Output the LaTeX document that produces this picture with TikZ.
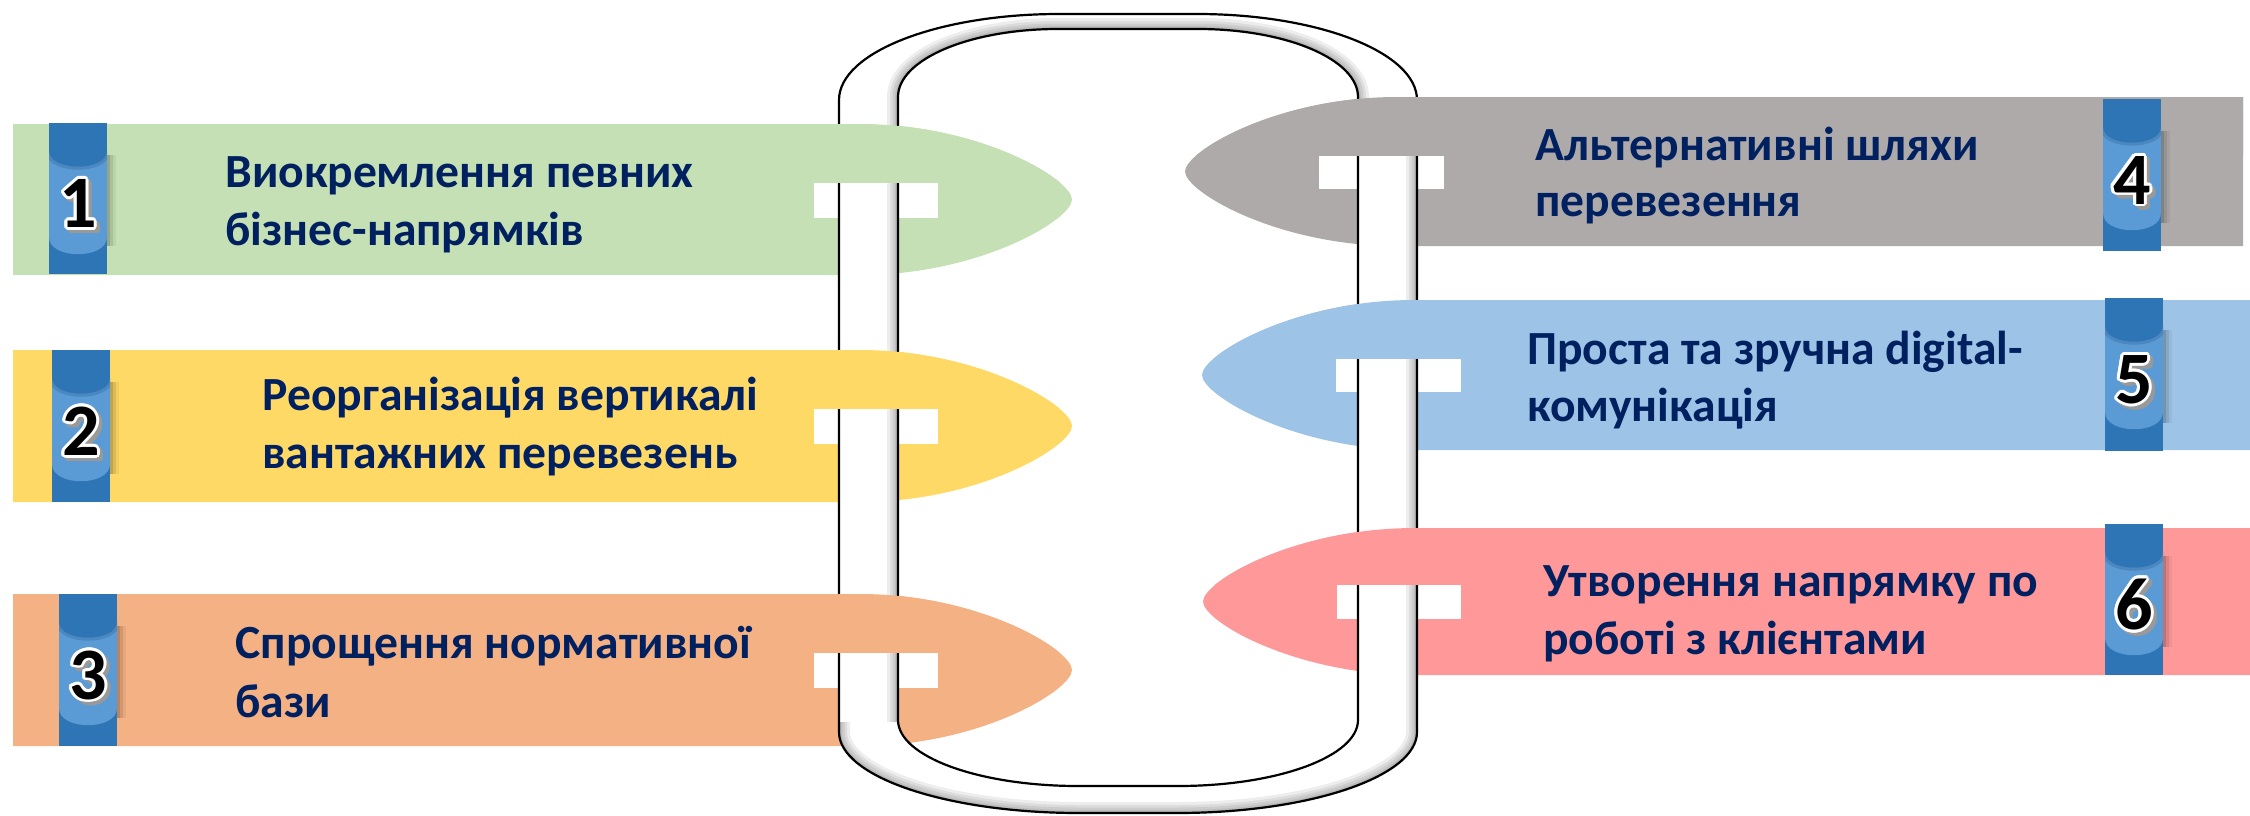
\documentclass[tikz,border=0pt]{standalone}
\usepackage{fontspec}
\setmainfont{Carlito}
\usetikzlibrary{calc}
\definecolor{bgreen}{HTML}{C5E0B4}
\definecolor{byellow}{HTML}{FFD966}
\definecolor{borange}{HTML}{F4B183}
\definecolor{bgray}{HTML}{AEAAAA}
\definecolor{bblue}{HTML}{9DC3E6}
\definecolor{bpink}{HTML}{FF9999}
\definecolor{bdark}{HTML}{2E75B6}
\definecolor{blight}{HTML}{5B9BD5}
\definecolor{navy}{HTML}{002060}
\tikzset{
  lbl/.style={font=\fontsize{23.8}{28}\selectfont\bfseries, text=navy, inner sep=0pt, anchor=base west},
  numf/.style={font=\fontsize{37}{37}\selectfont\bfseries, inner sep=0pt},
  tubeline/.style={black, line width=1.1pt},
  slot/.style={fill=white},
}
% left band: #1 top, #2 bottom, #3 centre, #4 colour
\newcommand\lband[4]{\fill[#4] (13,#1) -- (860,#1) .. controls (980,#1) and (1072,{#3-20}) .. (1072,#3) .. controls (1072,{#3+20}) and (980,#2) .. (860,#2) -- (13,#2) -- cycle;}
% right band: #1 top, #2 bottom, #3 centre, #4 tip x, #5 right x, #6 colour
\newcommand\rband[6]{\fill[#6] (#5,#1) -- ({#4+212},#1) .. controls ({#4+92},#1) and (#4,{#3-20}) .. (#4,#3) .. controls (#4,{#3+20}) and ({#4+92},#2) .. ({#4+212},#2) -- (#5,#2) -- cycle;}
\newcommand\outerp{(839,732) -- (839,100) .. controls (839,52.5) and (937.5,14) .. (1059,14) -- (1197,14) .. controls (1318.5,14) and (1417,52.5) .. (1417,100) -- (1417,732) .. controls (1417,776.7) and (1309.6,813) .. (1177,813) -- (1079,813) .. controls (946.4,813) and (839,776.7) .. (839,732) -- cycle}
\newcommand\innerp{(898,97) -- (898,720) .. controls (898,756.5) and (978.6,786) .. (1078,786) -- (1178,786) .. controls (1277.4,786) and (1358,756.5) .. (1358,720) -- (1358,97) .. controls (1358,59.4) and (1286.4,29) .. (1198,29) -- (1058,29) .. controls (969.6,29) and (898,59.4) .. (898,97) -- cycle}
% badge: #1 x0, #2 y0, #3 height
\newcommand\badge[3]{%
  \fill[bdark] (#1,#2) rectangle ({#1+58},{#2+#3});
  \foreach \s/\o in {3/0.12,6/0.09,9/0.05}{\fill[black,opacity=\o] ({#1+58},{#2+32}) rectangle ({#1+58+\s},{#2+#3-28});}
  \fill[blight] (#1,{#2+28}) .. controls (#1,{#2+49}) and ({#1+58},{#2+49}) .. ({#1+58},{#2+28}) -- ({#1+58},{#2+114}) .. controls ({#1+58},{#2+137}) and (#1,{#2+137}) .. (#1,{#2+114}) -- cycle;
  \begin{scope}
    \clip (#1,{#2+28}) .. controls (#1,{#2+49}) and ({#1+58},{#2+49}) .. ({#1+58},{#2+28}) -- ({#1+58},{#2+114}) -- (#1,{#2+114}) -- cycle;
    \draw[bdark!70!black, opacity=0.25, line width=3pt] (#1,{#2+28}) .. controls (#1,{#2+49}) and ({#1+58},{#2+49}) .. ({#1+58},{#2+28});
  \end{scope}
}
% number: #1 name, #2 x, #3 y, #4 digit
\newcommand\bnum[4]{%
  \foreach \a in {0,30,...,330}{\node[numf, text=black!40] at ($(#2+3.5,#3+3.5)+(\a:2.8)$) {#4};}
  \foreach \a in {0,22.5,...,337.5}{\node[numf, text=white] at ($(#2,#3)+(\a:2.8)$) {#4};}
  \node[numf, text=black] (#1) at (#2,#3) {#4};
}
\begin{document}
\begin{tikzpicture}[x=0.5pt, y=-0.5pt]
\useasboundingbox (0,0) rectangle (2250,815);
% bands (full)
\lband{124}{275}{199.5}{bgreen}
\lband{350}{502}{426}{byellow}
\lband{594}{746}{670}{borange}
\rband{97}{246}{171.5}{1185}{2243}{bgray}
\rband{300}{450}{375}{1202}{2250}{bblue}
\rband{528}{675}{601.5}{1203}{2250}{bpink}
% slots
\fill[slot] (814,182) rectangle (938,218);
\fill[slot] (814,408) rectangle (938,444);
\fill[slot] (814,652) rectangle (938,688);
\fill[slot] (1319,155) rectangle (1444,189);
\fill[slot] (1336,358) rectangle (1461,392);
\fill[slot] (1337,584) rectangle (1461,619);
% pipe
\fill[white] \outerp \innerp;
\begin{scope}
  \clip \outerp \innerp;
  \begin{scope}
    \clip (800,0) -- (1450,0) -- (1450,100) -- (1128,100) -- (1128,722) -- (800,722) -- cycle;
    \foreach \w in {11pt,8pt,5.5pt,3pt,1.5pt}{\draw[black, opacity=0.07, line width=\w] \innerp;}
  \end{scope}
  \begin{scope}
    \clip (1128,100) -- (1450,100) -- (1450,815) -- (800,815) -- (800,722) -- (1128,722) -- cycle;
    \foreach \w in {11pt,8pt,5.5pt,3pt,1.5pt}{\draw[black, opacity=0.07, line width=\w] \outerp;}
  \end{scope}
\end{scope}
\draw[tubeline] \outerp;
\draw[tubeline] \innerp;
% upper parts of bands over the pipe
\begin{scope}\clip (0,0) rectangle (2250,182); \lband{124}{275}{199.5}{bgreen}\end{scope}
\begin{scope}\clip (0,0) rectangle (2250,408); \lband{350}{502}{426}{byellow}\end{scope}
\begin{scope}\clip (0,0) rectangle (2250,652); \lband{594}{746}{670}{borange}\end{scope}
\begin{scope}\clip (0,0) rectangle (2250,155); \rband{97}{246}{171.5}{1185}{2243}{bgray}\end{scope}
\begin{scope}\clip (0,0) rectangle (2250,358); \rband{300}{450}{375}{1202}{2250}{bblue}\end{scope}
\begin{scope}\clip (0,0) rectangle (2250,584); \rband{528}{675}{601.5}{1203}{2250}{bpink}\end{scope}
% badges
\badge{49}{123}{151}
\badge{52}{350}{152}
\badge{59}{594}{152}
\badge{2103}{99}{152}
\badge{2105}{298}{153}
\badge{2105}{524}{151}
\bnum{n1}{78}{203.5}{1}
\bnum{n2}{81}{431}{2}
\bnum{n3}{88}{675}{3}
\bnum{n4}{2132}{180}{4}
\bnum{n5}{2134}{379.5}{5}
\bnum{n6}{2134}{604.5}{6}
% texts
\node[lbl] (t1a) at (225,187) {Виокремлення певних};
\node[lbl] (t1b) at (225,245) {бізнес-напрямків};
\node[lbl] (t2a) at (262,410) {Реорганізація вертикалі};
\node[lbl] (t2b) at (262,468) {вантажних перевезень};
\node[lbl] (t3a) at (235,658) {Спрощення нормативної};
\node[lbl] (t3b) at (235,717) {бази};
\node[lbl] (t4a) at (1535,160) {Альтернативні шляхи};
\node[lbl] (t4b) at (1535,216) {перевезення};
\node[lbl] (t5a) at (1527,364) {Проста та зручна digital-};
\node[lbl] (t5b) at (1527,421) {комунікація};
\node[lbl] (t6a) at (1543,596) {Утворення напрямку по};
\node[lbl] (t6b) at (1543,654) {роботі з клієнтами};
\end{tikzpicture}
\end{document}
